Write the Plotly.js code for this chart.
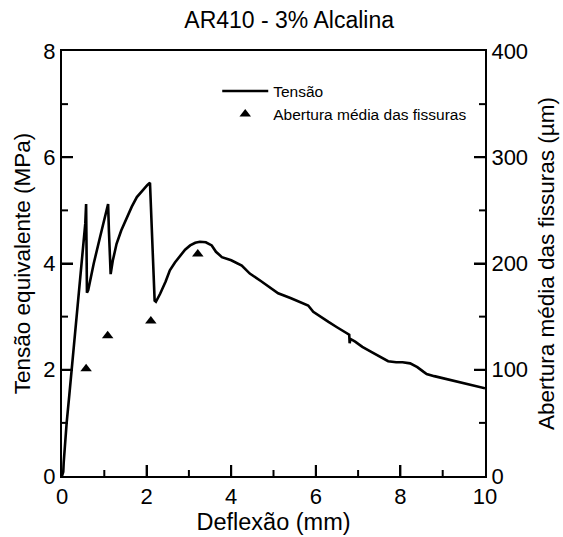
<!DOCTYPE html>
<html>
<head>
<meta charset="utf-8">
<script src="https://cdn.plot.ly/plotly-3.0.1.min.js"></script>
<style>html,body{margin:0;padding:0;background:#fff;}#chart{width:563px;height:537px;}</style>
</head>
<body>
<div id="chart"></div>
<script>
// Tensão equivalente (MPa) vs Deflexão (mm)
const deflexao = [0, 0.03, 0.04, 0.07, 0.11, 0.17, 0.23, 0.32, 0.42, 0.50, 0.55, 0.57,
  0.58, 0.585, 0.59, 0.62, 0.75, 0.90, 1.03, 1.09,
  1.11, 1.13, 1.15, 1.20, 1.29, 1.40, 1.53, 1.65, 1.77, 1.90, 2.02, 2.08,
  2.11, 2.15, 2.19, 2.22, 2.32, 2.45, 2.55, 2.67, 2.79, 2.91, 3.03, 3.15, 3.26, 3.40, 3.54, 3.64, 3.78,
  4.00, 4.25, 4.44, 4.70, 4.90, 5.11, 5.40, 5.60, 5.82, 5.94, 6.10, 6.30, 6.50, 6.65, 6.77, 6.79, 6.80, 6.82, 6.93,
  7.10, 7.30, 7.50, 7.71, 7.90, 8.05, 8.23, 8.40, 8.55, 8.62, 8.80, 9.00, 9.20, 9.40, 9.60, 9.80, 10.0];
const tensao = [0, 0.08, 0.25, 0.6, 1.0, 1.5, 2.0, 2.75, 3.6, 4.3, 4.75, 5.12,
  4.6, 3.9, 3.45, 3.5, 4.0, 4.5, 4.95, 5.12,
  4.6, 3.95, 3.8, 4.05, 4.37, 4.62, 4.87, 5.07, 5.25, 5.38, 5.48, 5.52,
  4.9, 3.9, 3.3, 3.28, 3.43, 3.66, 3.87, 4.02, 4.15, 4.26, 4.34, 4.39, 4.41, 4.40, 4.34, 4.22, 4.12,
  4.06, 3.96, 3.81, 3.67, 3.56, 3.44, 3.35, 3.29, 3.21, 3.09, 3.00, 2.90, 2.80, 2.72, 2.66, 2.66, 2.50, 2.58, 2.53,
  2.43, 2.34, 2.25, 2.16, 2.14, 2.14, 2.12, 2.05, 1.96, 1.92, 1.88, 1.84, 1.80, 1.76, 1.72, 1.68, 1.65];
// Abertura média das fissuras (µm)
const deflexaoFissura = [0.57, 1.08, 2.10, 3.21];
const aberturaFissura = [101, 132, 146, 209];

// Axis ranges and tick values
const xRange = [0, 10];
const yRange = [0, 8];
const y2Range = [0, 400];
const xMajor = [0, 2, 4, 6, 8, 10];
const xMinor = [1, 3, 5, 7, 9];
const yMajor = [0, 2, 4, 6, 8];
const yMinor = [1, 3, 5, 7];
const y2Major = [0, 100, 200, 300, 400];
const y2Minor = [50, 150, 250, 350];

const FONT = 'Liberation Sans, Arial, sans-serif';

const traces = [
  {x: deflexao, y: tensao, type: 'scatter', mode: 'lines', name: 'Tensão',
   line: {color: '#000', width: 2.6}},
  {x: deflexaoFissura, y: aberturaFissura, type: 'scatter', mode: 'markers', name: 'Abertura média das fissuras',
   yaxis: 'y2', marker: {symbol: 'triangle-up', size: 10, color: '#000'}}
];

function axisStyle(extra) {
  return Object.assign({
    ticks: 'inside', ticklen: 11, tickwidth: 2, tickcolor: '#000',
    showline: true, linewidth: 2, linecolor: '#000',
    showgrid: true, gridcolor: 'rgba(0,0,0,0)', zeroline: true, zerolinecolor: '#000', zerolinewidth: 2
  }, extra);
}

// tick marks drawn through the axes' own scales (inside the frame)
const inner = (vals, r) => vals.filter(v => v > r[0] && v < r[1]);
const shapes = [];
function xTick(v, len) {
  shapes.push({type: 'line', xref: 'x', yref: 'paper', ysizemode: 'pixel', yanchor: 0,
               x0: v, x1: v, y0: 0, y1: len, line: {color: '#000', width: 2}, layer: 'above'});
}
function yTick(v, len, axis, side) {
  shapes.push({type: 'line', xref: 'paper', yref: axis, xsizemode: 'pixel', xanchor: side,
               x0: 0, x1: side === 0 ? len : -len, y0: v, y1: v, line: {color: '#000', width: 2}, layer: 'above'});
}
inner(xMajor, xRange).forEach(v => xTick(v, 11));
inner(xMinor, xRange).forEach(v => xTick(v, 6));
inner(yMajor, yRange).forEach(v => yTick(v, 11, 'y', 0));
inner(yMinor, yRange).forEach(v => yTick(v, 6, 'y', 0));
inner(y2Major, y2Range).forEach(v => yTick(v, 11, 'y2', 1));
inner(y2Minor, y2Range).forEach(v => yTick(v, 6, 'y2', 1));

const layout = {
  width: 563, height: 537,
  margin: {l: 62, r: 78, t: 51, b: 61},
  paper_bgcolor: '#fff', plot_bgcolor: '#fff',
  font: {family: FONT, size: 22, color: '#000'},
  showlegend: true,
  title: {text: 'AR410 - 3% Alcalina', font: {family: FONT, size: 23, color: '#000'},
          x: 0.537, xref: 'paper', xanchor: 'center', y: 1 - 20/537, yref: 'container', yanchor: 'middle'},
  legend: {x: 0.367, y: 0.945, xanchor: 'left', yanchor: 'top', bgcolor: 'rgba(0,0,0,0)',
           font: {family: FONT, size: 15.5, color: '#000'}, itemwidth: 46, tracegroupgap: 0},
  xaxis: axisStyle({range: xRange, tickvals: xMajor, ticktext: xMajor.map(String), mirror: true}),
  yaxis: axisStyle({range: yRange, tickvals: yMajor, ticktext: yMajor.map(String)}),
  yaxis2: axisStyle({range: y2Range, overlaying: 'y', side: 'right', tickvals: y2Major, ticktext: y2Major.map(String)}),
  shapes: shapes
};
layout.xaxis.title = {text: 'Deflexão (mm)', font: {size: 23.5}, standoff: 2};
layout.yaxis.title = {text: 'Tensão equivalente (MPa)', font: {size: 22.5}, standoff: 6};
layout.yaxis2.title = {text: 'Abertura média das fissuras (µm)', font: {size: 22.5}, standoff: 11};

Plotly.newPlot('chart', traces, layout, {displayModeBar: false});
</script>
</body>
</html>
